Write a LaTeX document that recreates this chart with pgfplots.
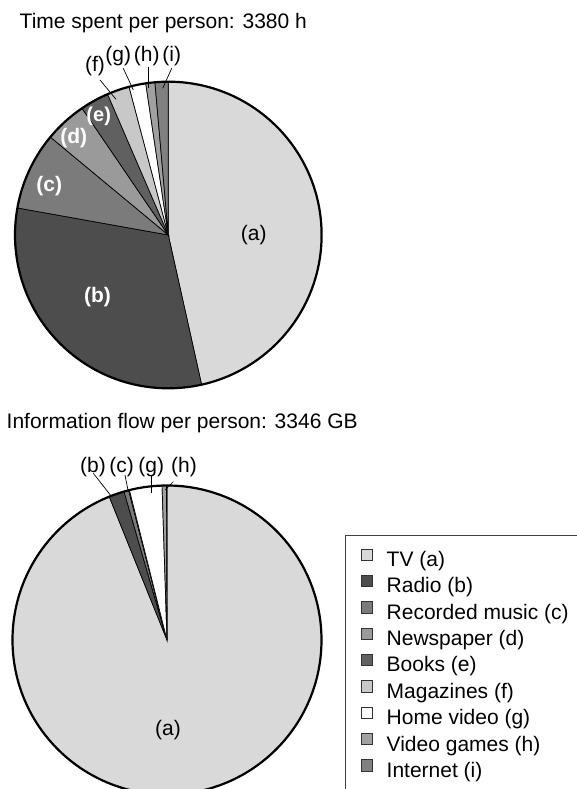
\documentclass[border=0pt]{standalone}
\usepackage{pgfplots}
\usepackage{pgfplotstable}
\pgfplotsset{compat=1.18}
\usepackage{fontspec}
\setmainfont{Liberation Sans}

\definecolor{cA}{HTML}{D9D9D9}
\definecolor{cB}{HTML}{4D4D4D}
\definecolor{cC}{HTML}{7B7B7B}
\definecolor{cD}{HTML}{9A9A9A}
\definecolor{cE}{HTML}{606060}
\definecolor{cF}{HTML}{C8C8C8}
\definecolor{cG}{HTML}{FFFFFF}
\definecolor{cH}{HTML}{A0A0A0}
\definecolor{cI}{HTML}{808080}

% share of each medium, per cent
\pgfplotstableread{
key pct   col
a   46.5  cA
b   31.3  cB
c   8.2   cC
d   4.46  cD
e   3.03  cE
f   2.36  cF
g   1.77  cG
h   0.96  cH
i   1.39  cI
}\timetable

\pgfplotstableread{
key pct   col
a   93.95 cA
b   1.61  cB
c   0.5   cC
d   0.03  cD
e   0.02  cE
f   0.03  cF
g   3.4   cG
h   0.46  cH
i   0.05  cI
}\flowtable

% #1 table, #2 #3 centre, #4 radius (1 unit = 1bp)
\newcommand\drawpie[4]{%
  \pgfplotstablegetrowsof{#1}%
  \pgfmathtruncatemacro\nrows{\pgfplotsretval-1}%
  \def\pietot{0}%
  \pgfplotsforeachungrouped \k in {0,...,\nrows}{%
    \pgfplotstablegetelem{\k}{pct}\of{#1}%
    \pgfmathsetmacro\pietot{\pietot+\pgfplotsretval}%
  }%
  \def\piecum{0}%
  \pgfplotsforeachungrouped \k in {0,...,\nrows}{%
    \pgfplotstablegetelem{\k}{pct}\of{#1}%
    \pgfmathsetmacro\aA{90-3.6*(\piecum/\pietot*100)}%
    \pgfmathsetmacro\piecum{\piecum+\pgfplotsretval}%
    \pgfmathsetmacro\aB{90-3.6*(\piecum/\pietot*100)}%
    \pgfplotstablegetelem{\k}{col}\of{#1}%
    \let\slicecol\pgfplotsretval
    \pgfmathsetmacro\px{#2+#4*cos(\aA)}%
    \pgfmathsetmacro\py{#3+#4*sin(\aA)}%
    \edef\temp{\noexpand\draw[fill=\slicecol, draw=black, line width=0.7bp]
      (axis cs:#2,#3) -- (axis cs:\px,\py)
      arc[start angle=\aA, end angle=\aB, radius=#4bp] -- cycle;}%
    \temp
  }%
  \edef\temp{\noexpand\draw[line width=2.2bp] (axis cs:#2,#3) circle[radius=#4bp];}\temp
}

\begin{document}
\begin{tikzpicture}
\useasboundingbox (0,0) rectangle (577bp,789bp);
\clip (0,0) rectangle (577bp,789bp);
\begin{axis}[
    at={(0,0)}, anchor=south west,
    scale only axis, width=577bp, height=789bp,
    xmin=0, xmax=577, ymin=0, ymax=789,
    hide axis, clip=false,
    font=\fontsize{21bp}{24bp}\selectfont,
    legend style={at={(0.5979,0.3219)}, anchor=north west,
      draw=black!75, line width=1.2bp, fill=white,
      font=\fontsize{21bp}{24bp}\selectfont,
      inner xsep=15bp, inner ysep=12.9bp,
      row sep=3.3bp, column sep=14bp,
      nodes={inner sep=0bp, text height=15.5bp, text depth=5bp}},
    legend cell align=left,
    legend image code/.code={\draw[#1, draw=black!80, line width=0.6bp] (0bp,1bp) rectangle (11.5bp,12.5bp);},
]
\drawpie{\timetable}{168.3}{554}{153.3}
\drawpie{\flowtable}{167}{149}{154.5}

\addlegendimage{fill=cA}
\addlegendimage{fill=cB}
\addlegendimage{fill=cC}
\addlegendimage{fill=cD}
\addlegendimage{fill=cE}
\addlegendimage{fill=cF}
\addlegendimage{fill=cG}
\addlegendimage{fill=cH}
\addlegendimage{fill=cI}
\legend{TV (a), Radio (b), Recorded music (c), Newspaper (d), Books (e),
  Magazines (f), Home video (g), Video games (h), Internet (i)}

% titles
\node[anchor=base west, inner sep=0pt] at (axis cs:19.5,760.7) {Time spent per person: 3380 h};
\node[anchor=base west, inner sep=0pt] at (axis cs:6.5,360.7) {Information flow per person: 3346 GB};

% labels, time pie
\node at (axis cs:253.7,554) {(a)};
\node[text=white, font=\fontsize{21bp}{24bp}\selectfont\bfseries] at (axis cs:97.5,491.5) {(b)};
\node[text=white, font=\fontsize{21bp}{24bp}\selectfont\bfseries] at (axis cs:49.3,602.7) {(c)};
\node[text=white, font=\fontsize{21bp}{24bp}\selectfont\bfseries] at (axis cs:73.7,651.2) {(d)};
\node[text=white, font=\fontsize{20bp}{22bp}\selectfont\bfseries] at (axis cs:98.7,672.3) {(e)};
\node at (axis cs:95,722.5) {(f)};
\node at (axis cs:118.3,733) {(g)};
\node at (axis cs:146.7,733) {(h)};
\node at (axis cs:171.7,733) {(i)};
\draw[line width=0.7bp] (axis cs:100,709) -- (axis cs:116,689.7);
\draw[line width=0.7bp] (axis cs:123.3,720.7) -- (axis cs:133.3,699);
\draw[line width=0.7bp] (axis cs:148.3,722.3) -- (axis cs:148.3,700.7);
\draw[line width=0.7bp] (axis cs:171.7,720.7) -- (axis cs:162.7,700.7);

% labels, flow pie
\node at (axis cs:168,59) {(a)};
\node at (axis cs:93,322.3) {(b)};
\node at (axis cs:121.7,322.3) {(c)};
\node at (axis cs:151.3,322.3) {(g)};
\node at (axis cs:184,322.3) {(h)};
\draw[line width=0.7bp] (axis cs:93.3,315.7) -- (axis cs:111.7,292.3);
\draw[line width=0.7bp] (axis cs:125,314) -- (axis cs:128.3,297.3);
\draw[line width=0.7bp] (axis cs:151.7,314) -- (axis cs:151.7,295.7);
\draw[line width=0.7bp] (axis cs:173.3,307.3) -- (axis cs:165,299);
\end{axis}
\end{tikzpicture}
\end{document}
